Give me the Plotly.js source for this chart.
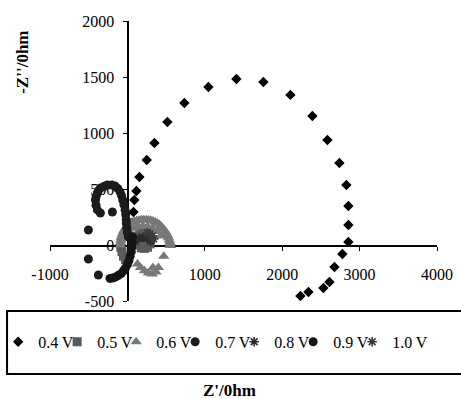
<!DOCTYPE html>
<html>
<head>
<meta charset="utf-8">
<script src="https://cdn.plot.ly/plotly-3.0.1.min.js"></script>
<style>html,body{margin:0;padding:0;background:#fff;}#chart{width:461px;height:399px;}</style>
</head>
<body>
<div id="chart"></div>
<script>
// Series names
const seriesNames = ["0.4 V", "0.5 V", "0.6 V", "0.7 V", "0.8 V", "0.9 V", "1.0 V"];

// 0.4 V (diamonds)
const x04 = [60, 78, 90, 116, 155, 250, 349, 517, 736, 1047, 1408, 1757, 2106, 2390, 2584, 2739, 2829, 2855, 2855, 2855, 2778, 2675, 2610, 2532, 2339, 2235];
const y04 = [200, 295, 402, 482, 607, 759, 911, 1098, 1268, 1411, 1482, 1456, 1340, 1152, 938, 732, 536, 348, 179, 27, -80, -196, -330, -384, -420, -455];

// 0.5 V (squares)
const x05 = [-85, -70, -50, -25, 110, 130, 160, 200, 240, 280, 300, 290, 260, 220, 180, 140, 150, 200, 250];
const y05 = [-20, -60, -100, -130, 40, 80, 105, 115, 110, 90, 50, 10, -20, -30, -25, 0, 60, 70, 50];

// 0.6 V (triangles)
const x06 = [-90, -88, -85, -78, -70, -58, -45, -28, -10, 12, 35, 60, 90, 120, 150, 180, 210, 240, 270, 300, 330, 358, 385, 408, 430, 450, 470, 488, 505, 518, 530, 540, 548, 552, 555, -40, 20, 80, 140, 200, 260, 320, 380, 430, 130, 170, 220, 270, 320, 370, 400, 470, 330];
const y06 = [0, 22, 45, 68, 90, 110, 130, 148, 165, 180, 192, 203, 212, 218, 222, 225, 226, 226, 224, 220, 214, 206, 196, 185, 172, 157, 140, 123, 105, 85, 65, 45, 25, 10, -5, 80, 120, 150, 165, 170, 165, 150, 120, 80, -170, -200, -230, -250, -260, -240, -200, -100, -200];

// 0.7 V (circles)
const x07 = [13, 0, -8, -13, -15, -22, -30, -45, -60, -75, -95, -125, -160, -200, -258, -300, -349, -375, -388, -405, -413, -405, -388, -349, -194, -504, -504, -375];
const y07 = [71, 110, 150, 190, 225, 270, 313, 360, 402, 440, 473, 505, 527, 535, 536, 525, 509, 485, 464, 430, 402, 355, 313, 286, 295, 134, -125, -268];

// 0.8 V (asterisks)
const x08 = [100, 150, 200, 250, 300];
const y08 = [30, 60, 70, 60, 30];

// 0.9 V (circles)
const x09 = [65, 60, 55, 50, 35, 20, 0, -25, -50, -80, -115, -150, -190, -225];
const y09 = [71, 20, -20, -60, -100, -140, -175, -205, -230, -255, -270, -285, -295, -298];

// 1.0 V (asterisks)
const x10 = [260, 290, 320, 340];
const y10 = [110, 100, 80, 55];

// Tick values
const xTicks = [-1000, 1000, 2000, 3000, 4000];
const yTicks = [-500, 0, 500, 1000, 1500, 2000];

const FONT = "'Liberation Serif', 'Times New Roman', serif";

function tr(name, x, y, symbol, color, size, lineOnly) {
  const m = {symbol: symbol, color: color, size: size};
  if (lineOnly) { m.line = {color: color, width: 1.6}; }
  else { m.line = {width: 0}; }
  return {type: 'scatter', mode: 'markers', name: name, x: x, y: y, marker: m, hoverinfo: 'skip'};
}

const data = [
  tr(seriesNames[0], x04, y04, 'diamond', '#000000', 8),
  tr(seriesNames[1], x05, y05, 'square', '#5a5a5a', 9),
  tr(seriesNames[2], x06, y06, 'triangle-up', '#787878', 10),
  tr(seriesNames[3], x07, y07, 'circle', '#1c1c1c', 9),
  tr(seriesNames[4], x08, y08, 'asterisk-open', '#2a2a2a', 8, true),
  tr(seriesNames[5], x09, y09, 'circle', '#141414', 9),
  tr(seriesNames[6], x10, y10, 'asterisk-open', '#3a3a3a', 8, true)
];
data[6].legendwidth = 38;

const axisCommon = {
  anchor: 'free', position: 0.2,
  showline: true, linecolor: '#000', linewidth: 1.6,
  ticks: 'outside', ticklen: 4, tickwidth: 1, tickcolor: '#000',
  showgrid: false, zeroline: false,
  tickfont: {family: FONT, size: 16, color: '#000'},
  layer: 'below traces',
  fixedrange: true
};

const layout = {
  width: 461, height: 399,
  margin: {l: 50, r: 24, t: 21, b: 98, autoexpand: false},
  paper_bgcolor: '#fff', plot_bgcolor: '#fff',
  showlegend: true,
  xaxis: Object.assign({}, axisCommon, {range: [-1000, 4000], tickvals: xTicks, ticktext: xTicks.map(String), ticklabelstandoff: 10}),
  yaxis: Object.assign({}, axisCommon, {range: [-500, 2000], tickvals: yTicks, ticktext: yTicks.map(String), ticklabelstandoff: 6}),
  legend: {
    orientation: 'h', x: -0.134, xanchor: 'left', y: -0.146, yanchor: 'middle',
    entrywidth: 14, entrywidthmode: 'pixels',
    font: {family: FONT, size: 16, color: '#000'},
    bgcolor: 'rgba(0,0,0,0)', borderwidth: 0, traceorder: 'normal'
  },
  shapes: [{
    type: 'rect', xref: 'paper', yref: 'paper',
    x0: -0.111, x1: 1.08, y0: -0.036, y1: -0.261,
    line: {color: '#000', width: 2}, fillcolor: 'rgba(0,0,0,0)'
  }],
  annotations: [
    {text: "Z'/0hm", xref: 'paper', yref: 'paper', x: 0.465, y: -0.318, xanchor: 'center', yanchor: 'middle', showarrow: false,
     font: {family: FONT, size: 17, color: '#000', weight: 'bold'}},
    {text: "-Z''/0hm", xref: 'paper', yref: 'paper', x: -0.07, y: 0.854, xanchor: 'center', yanchor: 'middle', showarrow: false, textangle: -90,
     font: {family: FONT, size: 17, color: '#000', weight: 'bold'}}
  ]
};

Plotly.newPlot('chart', data, layout, {displayModeBar: false, staticPlot: true});
</script>
</body>
</html>
